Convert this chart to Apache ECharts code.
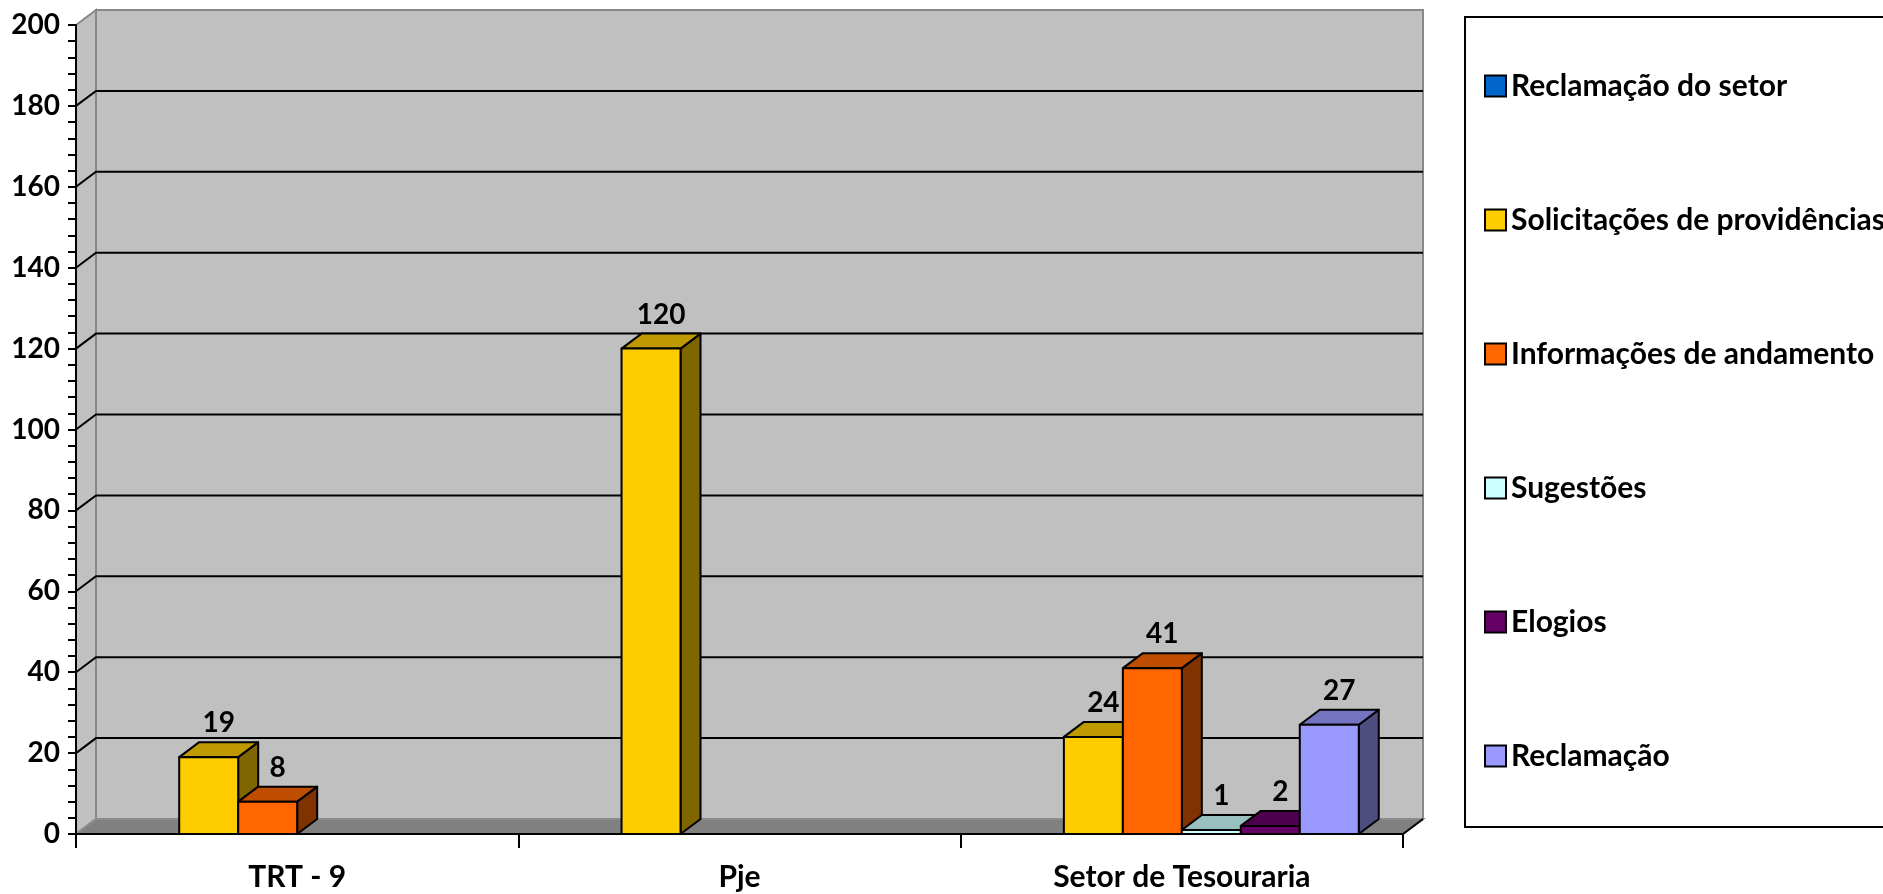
<!DOCTYPE html>
<html>
<head>
<meta charset="utf-8">
<script src="https://cdn.jsdelivr.net/npm/echarts@6/dist/echarts.min.js"></script>
<style>
html,body{margin:0;padding:0;background:#fff;}
#chart{width:1883px;height:894px;}
</style>
</head>
<body>
<div id="chart"></div>
<script>
// ---- data ----
const categories = ['TRT - 9', 'Pje', 'Setor de Tesouraria'];
const seriesNames = ['Reclamação do setor', 'Solicitações de providências', 'Informações de andamento', 'Sugestões', 'Elogios', 'Reclamação'];
const reclamacaoSetor = [null, null, null];
const solicitacoes = [19, 120, 24];
const informacoes = [8, null, 41];
const sugestoes = [null, null, 1];
const elogios = [null, null, 2];
const reclamacao = [null, null, 27];
const yTickValues = [0, 20, 40, 60, 80, 100, 120, 140, 160, 180, 200];

const seriesValues = [reclamacaoSetor, solicitacoes, informacoes, sugestoes, elogios, reclamacao];
const frontColors = ['#0066CC', '#FFCC00', '#FF6600', '#CCFFFF', '#660066', '#9999FF'];

// ---- style ----
const FONT = 'Lato';
const DX = 20, DY = -15;

function shade(hex, f) {
  const n = parseInt(hex.slice(1), 16);
  const r = Math.round(((n >> 16) & 255) * f);
  const g = Math.round(((n >> 8) & 255) * f);
  const b = Math.round((n & 255) * f);
  return 'rgb(' + r + ',' + g + ',' + b + ')';
}

const chart = echarts.init(document.getElementById('chart'), null, {renderer: 'canvas'});

function wallsRender(params, api) {
  const cs = params.coordSys;
  const xl = cs.x, xr = cs.x + cs.width;
  const yTop = api.coord([0, 200])[1];
  const yBot = api.coord([0, 0])[1];
  const children = [];
  // back wall
  children.push({type: 'polygon', shape: {points: [[xl + DX, yTop + DY], [xr + DX, yTop + DY], [xr + DX, yBot + DY], [xl + DX, yBot + DY]]},
    style: {fill: '#C0C0C0', stroke: '#888888', lineWidth: 2}});
  // side wall
  children.push({type: 'polygon', shape: {points: [[xl, yTop], [xl + DX, yTop + DY], [xl + DX, yBot + DY], [xl, yBot]]},
    style: {fill: '#C0C0C0', stroke: '#888888', lineWidth: 2}});
  // gridlines
  yTickValues.forEach(function (v) {
    if (v === 0 || v === 200) return;
    const y = api.coord([0, v])[1];
    children.push({type: 'polyline', shape: {points: [[xl, y], [xl + DX, y + DY], [xr + DX, y + DY]]},
      style: {fill: null, stroke: '#000', lineWidth: 2}});
  });
  // floor
  children.push({type: 'polygon', shape: {points: [[xl, yBot], [xl + DX, yBot + DY], [xr + DX, yBot + DY], [xr, yBot]]},
    style: {fill: '#808080', stroke: '#8C8C8C', lineWidth: 2}});
  children.push({type: 'line', shape: {x1: xr, y1: yBot, x2: xr + DX, y2: yBot + DY},
    style: {stroke: '#000', lineWidth: 2}});
  return {type: 'group', children: children};
}

function makeBarRender(sIdx) {
  const front = frontColors[sIdx];
  const top = shade(front, 0.75);
  const side = shade(front, 0.5);
  return function (params, api) {
    const ci = api.value(0);
    const v = api.value(1);
    if (v == null || isNaN(v)) return;
    const catW = api.size([1, 0])[0];
    const w = catW / 7.5;
    const c = api.coord([ci, v]);
    const b = api.coord([ci, 0]);
    const x0 = c[0] - 3 * w + sIdx * w;
    const x1 = x0 + w;
    const yt = c[1], yb = b[1];
    const st = {stroke: '#000', lineWidth: 2, lineJoin: 'round'};
    return {type: 'group', children: [
      {type: 'polygon', shape: {points: [[x1, yb], [x1 + DX, yb + DY], [x1 + DX, yt + DY], [x1, yt]]},
        style: Object.assign({fill: side}, st)},
      {type: 'polygon', shape: {points: [[x0, yt], [x0 + DX, yt + DY], [x1 + DX, yt + DY], [x1, yt]]},
        style: Object.assign({fill: top}, st)},
      {type: 'rect', shape: {x: x0, y: yt, width: w, height: yb - yt},
        style: Object.assign({fill: front}, st)},
      {type: 'text', z2: 10, style: {text: String(v), x: (x0 + x1) / 2 + DX / 2, y: yt + DY - 19,
        align: 'center', verticalAlign: 'middle', fill: '#000',
        font: 'bold 28px ' + FONT}}
    ]};
  };
}

const barSeries = seriesNames.map(function (name, s) {
  return {
    name: name,
    type: 'custom',
    z: 3,
    itemStyle: {color: frontColors[s]},
    renderItem: makeBarRender(s),
    encode: {x: 0, y: 1},
    data: seriesValues[s].map(function (val, i) { return [i, val == null ? '-' : val]; })
  };
});

const option = {
  animation: false,
  grid: {left: 76, top: 25, width: 1327, height: 809},
  xAxis: {
    type: 'category',
    data: categories,
    z: 10,
    boundaryGap: true,
    axisLine: {show: true, lineStyle: {color: '#000', width: 2}},
    axisTick: {show: true, length: 14, lineStyle: {color: '#000', width: 2}},
    axisLabel: {fontFamily: FONT, fontWeight: 'bold', fontSize: 30, color: '#000', margin: 28},
    splitLine: {show: false}
  },
  yAxis: {
    type: 'value',
    min: 0, max: 200, interval: 20,
    z: 10,
    axisLine: {show: true, lineStyle: {color: '#000', width: 2}},
    axisTick: {show: true, length: 8, lineStyle: {color: '#000', width: 2}},
    minorTick: {show: true, splitNumber: 5, length: 8, lineStyle: {color: '#000', width: 2}},
    axisLabel: {fontFamily: FONT, fontWeight: 'bold', fontSize: 28, color: '#000', margin: 16},
    splitLine: {show: false}
  },
  legend: {
    orient: 'vertical',
    left: 1479, top: 66,
    itemGap: 104,
    itemWidth: 21, itemHeight: 21,
    selectedMode: false,
    textStyle: {fontFamily: FONT, fontWeight: 'bold', fontSize: 30, color: '#000', lineHeight: 21},
    data: seriesNames.map(function (n, s) {
      return {name: n, icon: 'rect', itemStyle: {color: frontColors[s], borderColor: '#000', borderWidth: 2}};
    })
  },
  graphic: [{
    type: 'rect', left: 1464, top: 16, z: -1,
    shape: {width: 500, height: 810},
    style: {fill: '#fff', stroke: '#000', lineWidth: 2}
  }],
  series: [{
    type: 'custom', name: 'walls', z: 1, silent: true,
    renderItem: wallsRender,
    encode: {x: 0, y: 1},
    data: [[0, 0]]
  }].concat(barSeries)
};
chart.setOption(option);
</script>
</body>
</html>
